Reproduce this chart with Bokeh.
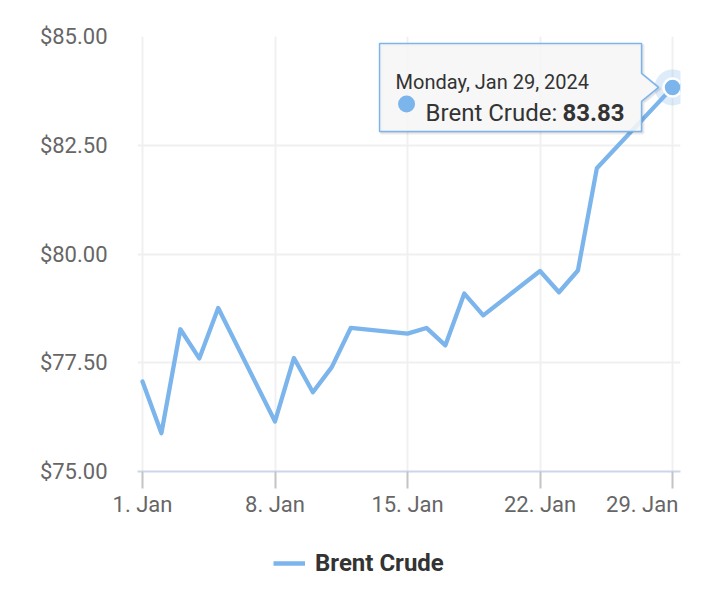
from bokeh.plotting import figure
from bokeh.layouts import column
from bokeh.models import (ColumnDataSource, FixedTicker, NumeralTickFormatter,
                          Range1d, Legend, LegendItem)
from bokeh.core.properties import value
from bokeh.embed import file_html
from bokeh.resources import INLINE

# ---- data (January 2024, day of month) ----
days = [1, 2, 3, 4, 5, 8, 9, 10, 11, 12, 15, 16, 17, 18, 19, 22, 23, 24, 25, 29]
prices = [77.07, 75.88, 78.27, 77.60, 78.76, 76.15, 77.61, 76.82, 77.40, 78.30,
          78.17, 78.30, 77.90, 79.09, 78.59, 79.61, 79.12, 79.62, 81.97, 83.83]
series_name = "Brent Crude"
x_ticks = [1, 8, 15, 22, 29]
x_tick_labels = ["1. Jan", "8. Jan", "15. Jan", "22. Jan", "29. Jan"]
y_ticks = [75, 77.5, 80, 82.5, 85]
tooltip_header = "Monday, Jan 29, 2024"

# ---- layout ----
W, H = 716, 520
ML, MR, MT, MB = 137, 36, 36, 49
X0, X1 = 0.736, 29.42
Y0, Y1 = 75, 85
COLOR = "#7cb5ec"
FONT = "Roboto"

p = figure(width=W, height=H, output_backend="svg", toolbar_location=None,
           x_range=Range1d(X0, X1), y_range=Range1d(Y0, Y1),
           min_border_left=ML, min_border_right=MR, min_border_top=MT,
           min_border_bottom=MB)
p.outline_line_color = None
p.background_fill_color = "white"
p.border_fill_color = "white"

# axes (last label justified left so it stays inside the chart, as in the original)
labels = list(x_tick_labels)
labels[-1] = labels[-1] + "\u00a0" * 7
p.xaxis.ticker = FixedTicker(ticks=x_ticks)
p.xaxis.major_label_overrides = {t: l for t, l in zip(x_ticks, labels)}
p.xaxis.axis_line_color = "#ccd6eb"
p.xaxis.axis_line_width = 2
p.xaxis.major_tick_line_color = "#c4c4c4"
p.xaxis.major_tick_line_width = 2
p.xaxis.major_tick_out = 17
p.xaxis.major_tick_in = 0
p.xaxis.minor_tick_line_color = None
p.xaxis.major_label_standoff = 3
p.xaxis.major_label_text_font = FONT
p.xaxis.major_label_text_font_size = "22px"
p.xaxis.major_label_text_color = "#666666"

p.yaxis.ticker = FixedTicker(ticks=y_ticks)
p.yaxis.formatter = NumeralTickFormatter(format="$0.00")
p.yaxis.axis_line_color = None
p.yaxis.major_tick_line_color = None
p.yaxis.minor_tick_line_color = None
p.yaxis.major_tick_out = 0
p.yaxis.major_tick_in = 0
p.yaxis.major_label_standoff = 30
p.yaxis.major_label_text_font = FONT
p.yaxis.major_label_text_font_size = "22px"
p.yaxis.major_label_text_color = "#666666"

p.xgrid.grid_line_color = "#f0f0f0"
p.xgrid.grid_line_width = 2
p.ygrid.grid_line_color = "#f0f0f0"
p.ygrid.grid_line_width = 2

# series
src = ColumnDataSource(dict(x=days, y=prices))
line_r = p.line("x", "y", source=src, line_width=4.3, line_color=COLOR,
                line_join="round", line_cap="round")

# hovered point
xp, yp = days[-1], prices[-1]
p.scatter([xp], [yp], size=36, fill_color=COLOR, fill_alpha=0.25, line_color=None)
p.scatter([xp], [yp], size=18, fill_color=COLOR, line_color="white", line_width=2.5)

# tooltip (pixel offsets converted through the scales)
ppd = (W - ML - MR) / (X1 - X0)
ppu = (H - MT - MB) / (Y1 - Y0)


def at(dx, dy):
    return xp + dx / ppd, yp - dy / ppu


shape = [(-293, -44), (-31, -44), (-31, -14), (-14, 0), (-31, 14), (-31, 44), (-293, 44)]
sh = [at(dx + 1.5, dy + 1.5) for dx, dy in shape]
p.patch([s[0] for s in sh], [s[1] for s in sh], fill_color="black", fill_alpha=0.06,
        line_color="black", line_alpha=0.08, line_width=3)
bx = [at(dx, dy) for dx, dy in shape]
p.patch([b[0] for b in bx], [b[1] for b in bx], fill_color="#f7f7f7", fill_alpha=0.88,
        line_color=COLOR, line_width=1.5)

p.text([xp], [yp], text=[tooltip_header], x_offset=-277, y_offset=-5,
       text_font=value(FONT), text_font_size=value("20px"), text_color="#333333",
       text_baseline="alphabetic", text_align="left")
bxp, byp = at(-266, 16.5)
p.scatter([bxp], [byp], size=17, fill_color=COLOR, line_color=None)
p.text([xp], [yp], text=[series_name + ": "], x_offset=-247, y_offset=25.5,
       text_font=value(FONT), text_font_size=value("24px"), text_color="#333333",
       text_baseline="alphabetic", text_align="left")
p.text([xp], [yp], text=[f"{yp:.2f}"], x_offset=-110, y_offset=25.5,
       text_font=value(FONT), text_font_size=value("24px"), text_color="#333333",
       text_font_style="bold", text_baseline="alphabetic", text_align="left")

# legend strip below the chart (its series drawn off-view; only the legend shows)
LH = 72
lg = figure(width=W, height=LH, output_backend="svg", toolbar_location=None,
            x_axis_location=None, y_axis_location=None,
            x_range=Range1d(X0, X1), y_range=Range1d(0, 1),
            min_border_left=0, min_border_right=0, min_border_top=0, min_border_bottom=0)
lg.outline_line_color = None
lg.grid.visible = False
lg_line = lg.line("x", "y", source=src, line_width=4.3, line_color=COLOR)
legend = Legend(items=[LegendItem(label=series_name, renderers=[lg_line])],
                location=(136, 14), orientation="horizontal",
                glyph_width=32, glyph_height=30, label_height=30, label_standoff=10,
                label_text_font=FONT, label_text_font_size="24px",
                label_text_font_style="bold", label_text_color="#333333",
                border_line_color=None, background_fill_alpha=0,
                padding=0, margin=0, spacing=0)
lg.add_layout(legend)

layout = column(p, lg, spacing=0)
open("out.html", "w").write(file_html(layout, INLINE))
